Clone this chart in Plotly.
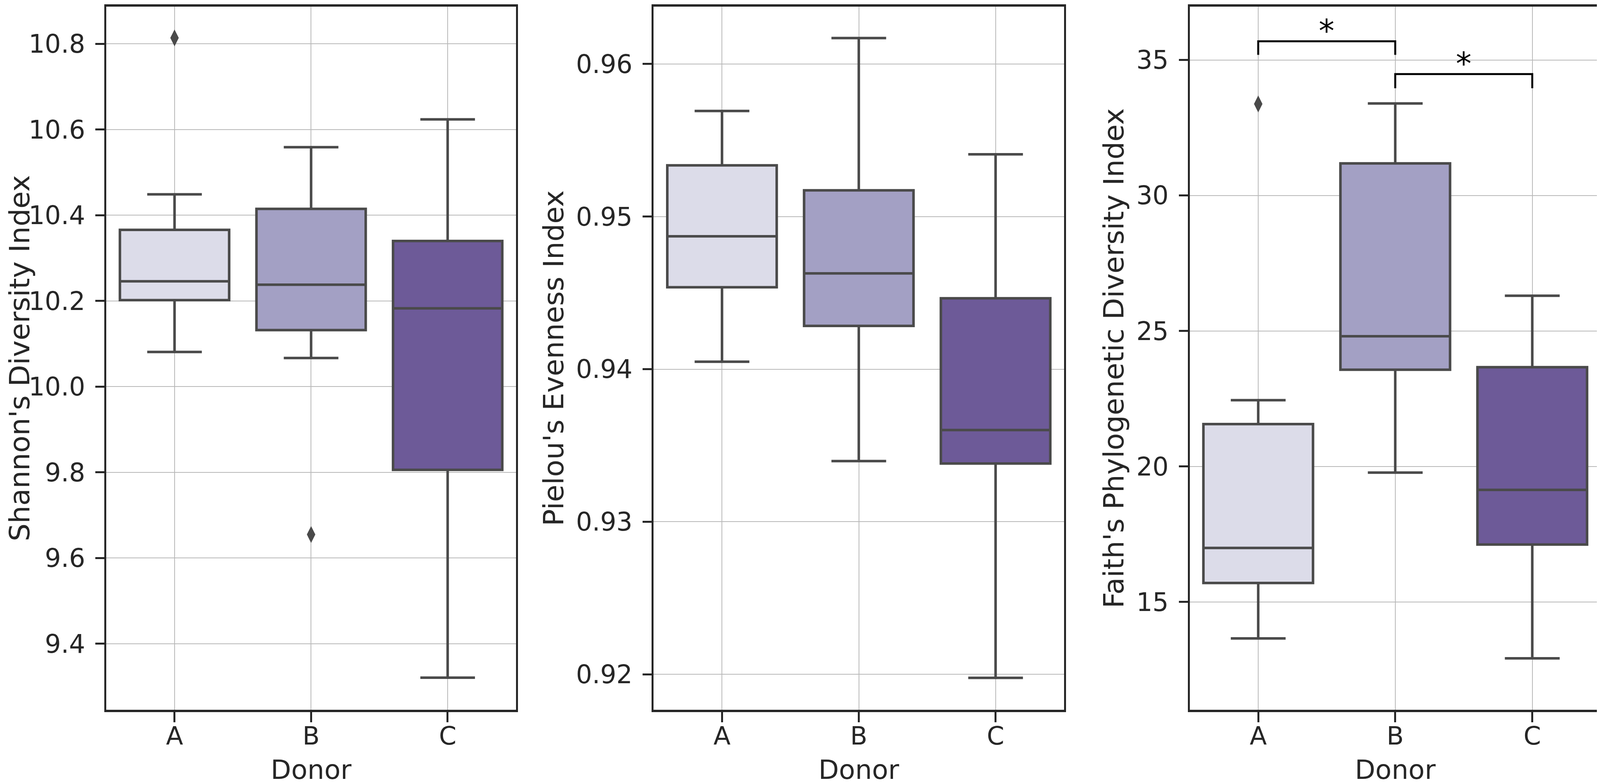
import plotly.graph_objects as go

donors = ["A", "B", "C"]
box_colors = ["#dcdce9", "#a3a0c4", "#6d5a98"]

# Shannon's diversity index
shannon_low = [10.081, 10.067, 9.321]
shannon_q1 = [10.202, 10.132, 9.806]
shannon_med = [10.246, 10.238, 10.183]
shannon_q3 = [10.366, 10.415, 10.340]
shannon_high = [10.449, 10.559, 10.624]
shannon_out_x = ["A", "B"]
shannon_out_y = [10.814, 9.655]

# Pielou's evenness index
pielou_low = [0.94049, 0.93398, 0.91977]
pielou_q1 = [0.94537, 0.94284, 0.93382]
pielou_med = [0.94871, 0.94628, 0.93601]
pielou_q3 = [0.95336, 0.95172, 0.94465]
pielou_high = [0.95692, 0.96170, 0.95408]
pielou_out_x = []
pielou_out_y = []

# Faith's phylogenetic diversity index
faith_low = [13.654, 19.774, 12.917]
faith_q1 = [15.70, 23.571, 17.12]
faith_med = [16.991, 24.806, 19.134]
faith_q3 = [21.562, 31.184, 23.664]
faith_high = [22.447, 33.396, 26.30]
faith_out_x = ["A"]
faith_out_y = [33.378]

# significance brackets on the Faith panel
sig_pairs = [("A", "B"), ("B", "C")]
sig_top = [35.69, 34.48]
sig_leg = [35.19, 33.96]
sig_text = ["*", "*"]

panels = [
    dict(low=shannon_low, q1=shannon_q1, med=shannon_med, q3=shannon_q3, high=shannon_high,
         ox=shannon_out_x, oy=shannon_out_y, title="Shannon's Diversity Index",
         yrange=[9.246, 10.887], ticks=[9.4, 9.6, 9.8, 10.0, 10.2, 10.4, 10.6, 10.8], fmt=".1f"),
    dict(low=pielou_low, q1=pielou_q1, med=pielou_med, q3=pielou_q3, high=pielou_high,
         ox=pielou_out_x, oy=pielou_out_y, title="Pielou's Evenness Index",
         yrange=[0.91768, 0.96376], ticks=[0.92, 0.93, 0.94, 0.95, 0.96], fmt=".2f"),
    dict(low=faith_low, q1=faith_q1, med=faith_med, q3=faith_q3, high=faith_high,
         ox=faith_out_x, oy=faith_out_y, title="Faith's Phylogenetic Diversity Index",
         yrange=[11.02, 36.97], ticks=[15, 20, 25, 30, 35], fmt="d"),
]

domains = [[0.0, 0.27412], [0.36624, 0.64082], [0.72494, 1.0]]

edge = "#4a4a4a"
spine = "#262626"
font = "DejaVu Sans"

fig = go.Figure()

for p_i, p in enumerate(panels):
    sfx = "" if p_i == 0 else str(p_i + 1)
    for d_i, d in enumerate(donors):
        fig.add_trace(go.Box(
            x=[d], q1=[p["q1"][d_i]], median=[p["med"][d_i]], q3=[p["q3"][d_i]],
            lowerfence=[p["low"][d_i]], upperfence=[p["high"][d_i]],
            fillcolor=box_colors[d_i], line=dict(color=edge, width=6.5),
            whiskerwidth=0.5, width=0.8, boxpoints=False,
            xaxis="x" + sfx, yaxis="y" + sfx, showlegend=False,
        ))
    if p["ox"]:
        fig.add_trace(go.Scatter(
            x=p["ox"], y=p["oy"], mode="markers",
            marker=dict(symbol="diamond-tall", size=31, color=edge, line=dict(width=0)),
            xaxis="x" + sfx, yaxis="y" + sfx, showlegend=False,
        ))

    ax = dict(
        domain=domains[p_i], type="category", categoryorder="array", categoryarray=donors,
        range=[-0.5, 2.5], showline=True, linecolor=spine, linewidth=5.5, mirror=True,
        ticks="outside", ticklen=26, tickwidth=4.5, tickcolor=spine,
        showgrid=True, gridcolor="#b8b8b8", gridwidth=1.5, zeroline=False,
        tickfont=dict(family=font, size=64, color=spine), ticklabelstandoff=-20,
        title=dict(text="Donor", font=dict(family=font, size=68, color=spine), standoff=42),
        automargin=False, anchor="y" + sfx,
    )
    ay = dict(
        domain=[0, 1], range=p["yrange"], tickvals=p["ticks"], tickformat=p["fmt"],
        showline=True, linecolor=spine, linewidth=5, mirror=True,
        ticks="outside", ticklen=23, tickwidth=4.5, tickcolor=spine,
        showgrid=True, gridcolor="#b8b8b8", gridwidth=1.5, zeroline=False,
        tickfont=dict(family=font, size=65, color=spine), ticklabelstandoff=13,
        title=dict(text=p["title"], font=dict(family=font, size=72, color=spine), standoff=10),
        automargin=False, anchor="x" + sfx,
    )
    fig.layout["xaxis" + sfx] = ax
    fig.layout["yaxis" + sfx] = ay

# brackets and stars
for (a, b), top, leg, txt in zip(sig_pairs, sig_top, sig_leg, sig_text):
    xa, xb = donors.index(a), donors.index(b)
    fig.add_shape(type="path", xref="x3", yref="y3",
                  path=f"M {xa} {leg} L {xa} {top} L {xb} {top} L {xb} {leg}",
                  line=dict(color="black", width=5))
    fig.add_annotation(x=(xa + xb) / 2, y=top, xref="x3", yref="y3", text=txt,
                       showarrow=False, yanchor="bottom", yshift=-22,
                       font=dict(family=font, size=80, color="black"))

fig.update_layout(
    width=4096, height=2003,
    margin=dict(l=264, r=6, t=9, b=193),
    paper_bgcolor="white", plot_bgcolor="white",
    boxgap=0.2, showlegend=False,
)

fig.write_html("out.html")
